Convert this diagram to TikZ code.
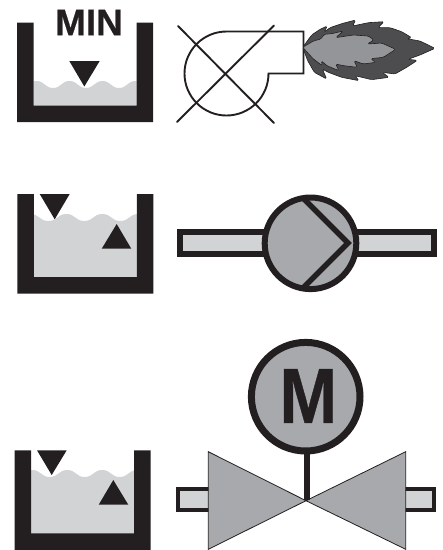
\documentclass[tikz,border=0pt]{standalone}
\usepackage{fontspec}
\usepackage{graphicx}
\setmainfont{Liberation Sans}
\newfontfamily\heavyfont[BoldFeatures={FakeBold=0.5}]{Liberation Sans}
\definecolor{ink}{HTML}{231F20}
\definecolor{water}{HTML}{D1D3D4}
\definecolor{midg}{HTML}{A7A9AC}
\definecolor{flameD}{HTML}{4D4D4F}
\definecolor{flameL}{HTML}{939598}
\tikzset{
 px/.style={x=1pt,y=-1pt},
 wall/.style={fill=ink,draw=none},
 wat/.style={fill=water,draw=none},
 tri/.style={fill=ink,draw=none},
 outl/.style={draw=ink,line width=1.9pt,line join=miter},
 flameout/.style={draw=ink,line width=0.6pt,line join=round,rounded corners=1.5pt},
 ring/.style={draw=ink,fill=midg},
 pipe/.style={draw=ink,fill=water,line join=miter},
 valve/.style={draw=ink,fill=midg,line width=0.8pt,line join=miter},
 txt/.style={text=ink,inner sep=0pt,anchor=center}
}
% #1,#2 outer top-left; #3 crest offset; #4 first trough; #5 period
\newcommand{\tank}[5]{%
 \begin{scope}[shift={(#1,#2)}]
  \begin{scope}
   \clip (16.5,0) rectangle (119.5,84);
   \pgfmathsetmacro{\qq}{#5/4}
   \pgfmathsetmacro{\cc}{#3}
   \pgfmathsetmacro{\tt}{#3+7}
   \fill[wat] (#4-#5,\tt)
    foreach \k in {-1,0,1,2} {
     .. controls (#4+\k*#5+\qq,\tt) and (#4+\k*#5+\qq,\cc) .. (#4+\k*#5+2*\qq,\cc)
     .. controls (#4+\k*#5+3*\qq,\cc) and (#4+\k*#5+3*\qq,\tt) .. (#4+\k*#5+4*\qq,\tt)
    } -- (#4+3*#5,84) -- (#4-#5,84) -- cycle;
  \end{scope}
  \fill[wall] (0,0) -- (16.5,0) -- (16.5,83) -- (119.5,83) -- (119.5,0) -- (136,0) -- (136,99.5) -- (0,99.5) -- cycle;
 \end{scope}}
\begin{document}
\begin{tikzpicture}[px]
\useasboundingbox (0,0) rectangle (443,550);
% Tank 1
\tank{17}{22.5}{58.5}{36}{33}
\fill[tri] (69.3,61) -- (99.7,61) -- (84.3,86.5) -- cycle;
\node[txt,font=\heavyfont\bfseries\fontsize{37}{37}\selectfont] (minlabel) at (89,22.5) {MIN};
% Blower
\draw[outl] (303.5,31.5) -- (226.5,31.5) arc[start angle=90,delta angle=270,x radius=42,y radius=-42] -- (303.5,73.5) -- cycle;
\draw[draw=ink,line width=1.9pt,line cap=round] (178,26) -- (274,123);
\draw[draw=ink,line width=1.9pt,line cap=round] (177,122) -- (274,25.5);
% Flame
\begin{scope}[shift={(300,15)},x=0.3333pt,y=-0.3333pt]
\fill[flameD,flameout] (8,97) -- (35,60) -- (60,43) -- (82,33) -- (72,52) -- (90,38) -- (125,26) -- (167,15) -- (158,33) -- (205,23) -- (252,20) -- (234,38) -- (270,38) -- (305,50) -- (335,68) -- (320,71) -- (360,78) -- (405,100) -- (360,120) -- (324,133) -- (352,136) -- (320,157) -- (285,177) -- (247,172) -- (267,187) -- (215,194) -- (165,182) -- (177,197) -- (125,187) -- (85,172) -- (67,162) -- (80,192) -- (43,172) -- (23,137) -- cycle;
\fill[flameL,flameout] (8,97) -- (40,78) -- (63,72) -- (72,58) -- (95,56) -- (130,48) -- (107,68) -- (160,60) -- (205,63) -- (222,75) -- (202,87) -- (245,84) -- (287,103) -- (250,127) -- (212,131) -- (227,142) -- (190,147) -- (162,137) -- (172,157) -- (130,152) -- (107,147) -- (117,167) -- (80,152) -- (64,137) -- (67,152) -- (40,132) -- cycle;
\end{scope}
% Tank 2
\tank{17.3}{194}{20}{31}{36}
\fill[tri] (39.7,194) -- (69.7,194) -- (54.7,219.3) -- cycle;
\fill[tri] (101.7,248.7) -- (131.3,248.7) -- (116.7,224) -- cycle;
% Pump
\draw[pipe,line width=6pt] (180.3,232.3) rectangle (434.3,254.3);
\filldraw[ring,line width=0pt] (310.5,243.3) circle[radius=45.8];
\begin{scope}
 \clip (310.5,243.3) circle[radius=46];
 \draw[draw=ink,line width=5.5pt,line join=miter] (303,198) -- (348,243) -- (303,288);
\end{scope}
\draw[draw=ink,line width=6pt] (310.5,243.3) circle[radius=45.8];
% Tank 3
\tank{14.7}{450.3}{19.7}{35}{35}
\fill[tri] (37,450.3) -- (66.7,450.3) -- (51.7,475) -- cycle;
\fill[tri] (98.7,504.7) -- (128.3,504.7) -- (113.3,480) -- cycle;
% Valve
\draw[pipe,line width=4pt] (177.7,488.7) rectangle (215,510);
\draw[pipe,line width=4pt] (400,488.7) rectangle (433.7,510);
\draw[valve] (208.3,451.7) -- (306,500.7) -- (208.3,549.3) -- cycle;
\draw[valve] (405.7,451.7) -- (306,500.7) -- (405.7,549.3) -- cycle;
\draw[draw=ink,line width=6pt] (306.5,452) -- (306.5,500);
\draw[ring,line width=7pt] (305.7,396.7) circle[radius=54.3];
\node[txt,font=\heavyfont\bfseries\fontsize{78}{78}\selectfont] (mlabel) at (308.3,396) {\scalebox{0.89}[1]{M}};
\end{tikzpicture}
\end{document}
